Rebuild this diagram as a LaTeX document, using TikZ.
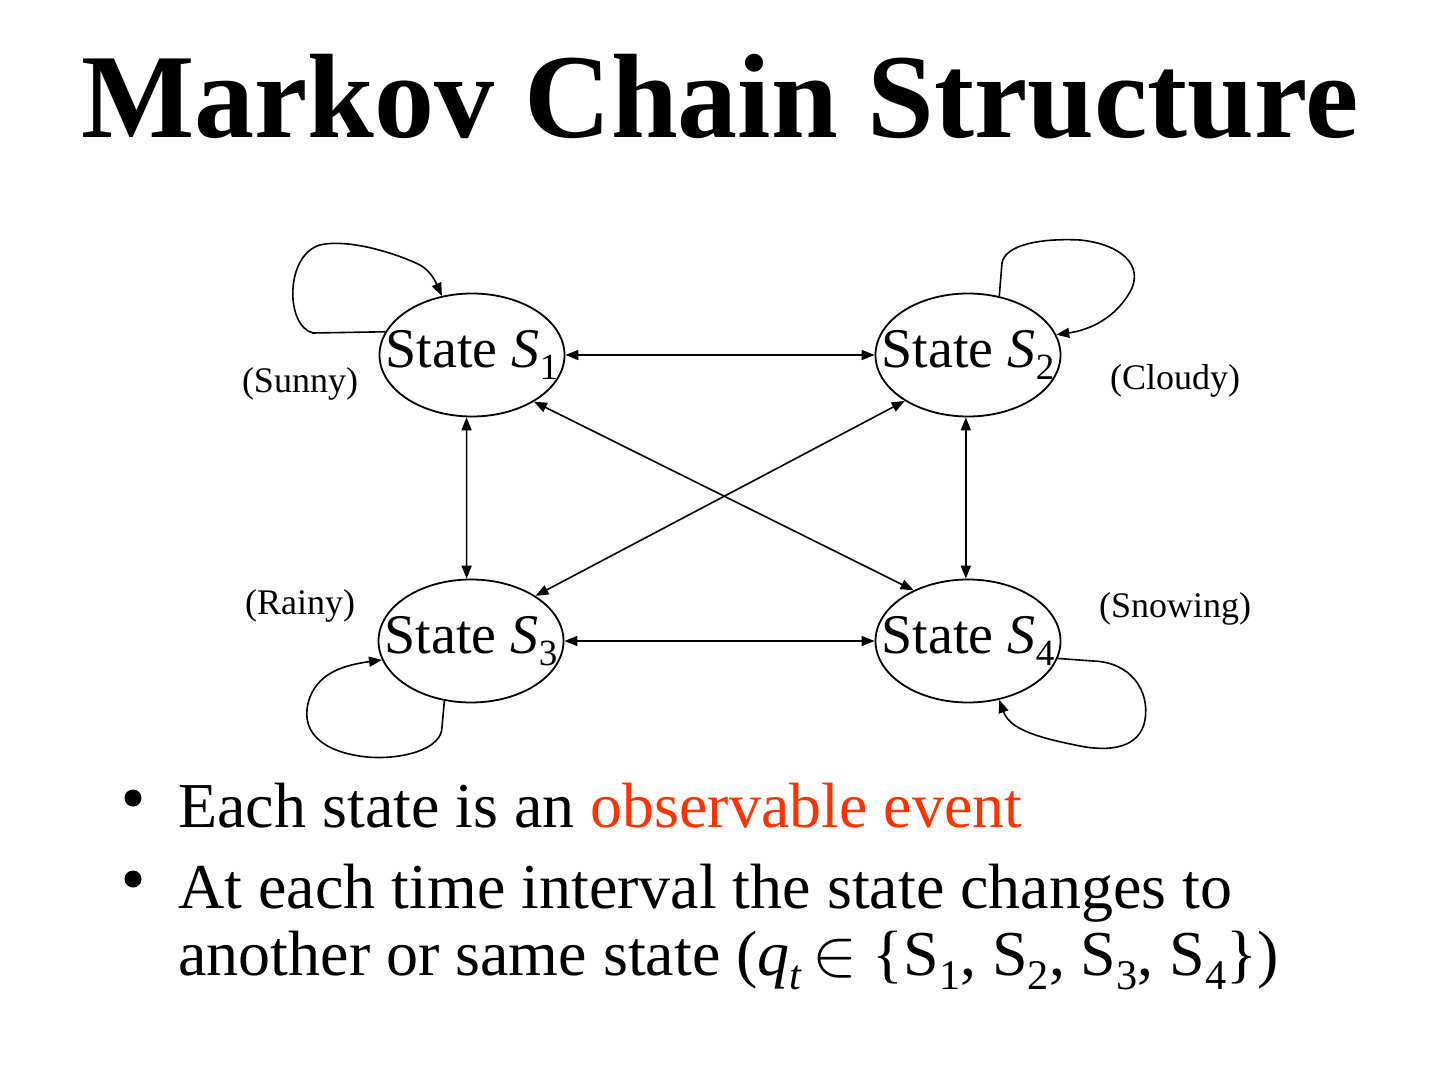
\documentclass[tikz,border=0pt]{standalone}
\usepackage{fontspec}
\usepackage{graphicx}
\setmainfont{Liberation Serif}
\usetikzlibrary{shapes.geometric,arrows.meta}
\definecolor{obsred}{RGB}{255,51,0}
\newcommand\stsub[1]{\raisebox{-0.22em}{\scalebox{0.66}{#1}}}

\begin{document}
\begin{tikzpicture}[x=0.5pt,y=-0.5pt,
  state/.style={draw, ellipse, line width=0.9pt, inner sep=0pt,
        minimum width=92.5pt, minimum height=61.5pt,
        font=\fontsize{28}{32}\selectfont},
  wlabel/.style={font=\fontsize{18}{21}\selectfont},
  link/.style={line width=0.8pt,
        {Triangle[length=6.5pt,width=5pt]}-{Triangle[length=6.5pt,width=5pt]}},
  self/.style={line width=0.8pt, -{Triangle[length=6.5pt,width=5pt]}},
  btext/.style={anchor=base west, inner sep=0pt, align=left,
        font=\fontsize{32}{33.5}\selectfont},
  bdot/.style={circle, fill, inner sep=0pt, minimum size=8.5pt},
]
  \useasboundingbox (0,0) rectangle (1440,1080);
  \node[anchor=base, inner sep=0pt, font=\fontsize{60}{70}\selectfont\bfseries] (title) at (720,138) {Markov Chain Structure};

  \node[state] (s1) at (472,355) {\makebox[0pt]{State \textit{S}\stsub{1}}};
  \node[state] (s2) at (968,355) {\makebox[0pt]{State \textit{S}\stsub{2}}};
  \node[state] (s3) at (471,641) {\makebox[0pt]{State \textit{S}\stsub{3}}};
  \node[state] (s4) at (968,641) {\makebox[0pt]{State \textit{S}\stsub{4}}};

  \node[wlabel] (sunny) at (300,384) {(Sunny)};
  \node[wlabel] (cloudy) at (1175,381) {(Cloudy)};
  \node[wlabel] (rainy) at (300,606) {(Rainy)};
  \node[wlabel] (snowing) at (1175,609) {(Snowing)};

  % transitions between states
  \draw[link] (s1) -- (s2);
  \draw[link] (s3) -- (s4);
  \draw[link] (s1.-95) -- (s3.94);
  \draw[link] (s2.-92) -- (s4.92);
  \draw[link] (s1.-37) -- (s4.137);
  \draw[link] (s2.216) -- (s3.35);

  % self loops
  \draw[self] (s1.165) -- (313,333) .. controls (285,326) and (285,255) .. (320,245)
     .. controls (350,238) and (400,255) .. (420,265) .. controls (432,272) and (436,283) .. (s1.117);
  \draw[self] (s2.62) -- (1002,263) .. controls (1005,245) and (1040,238) .. (1080,240)
     .. controls (1120,244) and (1145,265) .. (1130,292) .. controls (1115,318) and (1090,330) .. (s2.13);
  \draw[self] (s3.-114) -- (442,727) .. controls (442,750) and (400,760) .. (367,757)
     .. controls (320,752) and (298,730) .. (310,697) .. controls (320,672) and (345,665) .. (s3.192);
  \draw[self] (s4.-11) -- (1093,661) .. controls (1130,662) and (1150,690) .. (1145,720)
     .. controls (1140,748) and (1110,752) .. (1080,746) .. controls (1040,738) and (1010,730) .. (s4.-62);

  % bullet points
  \node[bdot] (dot1) at (133,798) {};
  \node[btext] (item1) at (178,827) {Each state is an \textcolor{obsred}{observable event}};
  \node[bdot] (dot2) at (133,879) {};
  \node[btext] (item2) at (178,975) {At each time interval the state changes to\\
     another or same state (\textit{q}\stsub{\itshape t}\,\smash{\scalebox{1.35}{$\in$}}\ \{S\stsub{1}, S\stsub{2}, S\stsub{3}, S\stsub{4}\})};
\end{tikzpicture}
\end{document}
